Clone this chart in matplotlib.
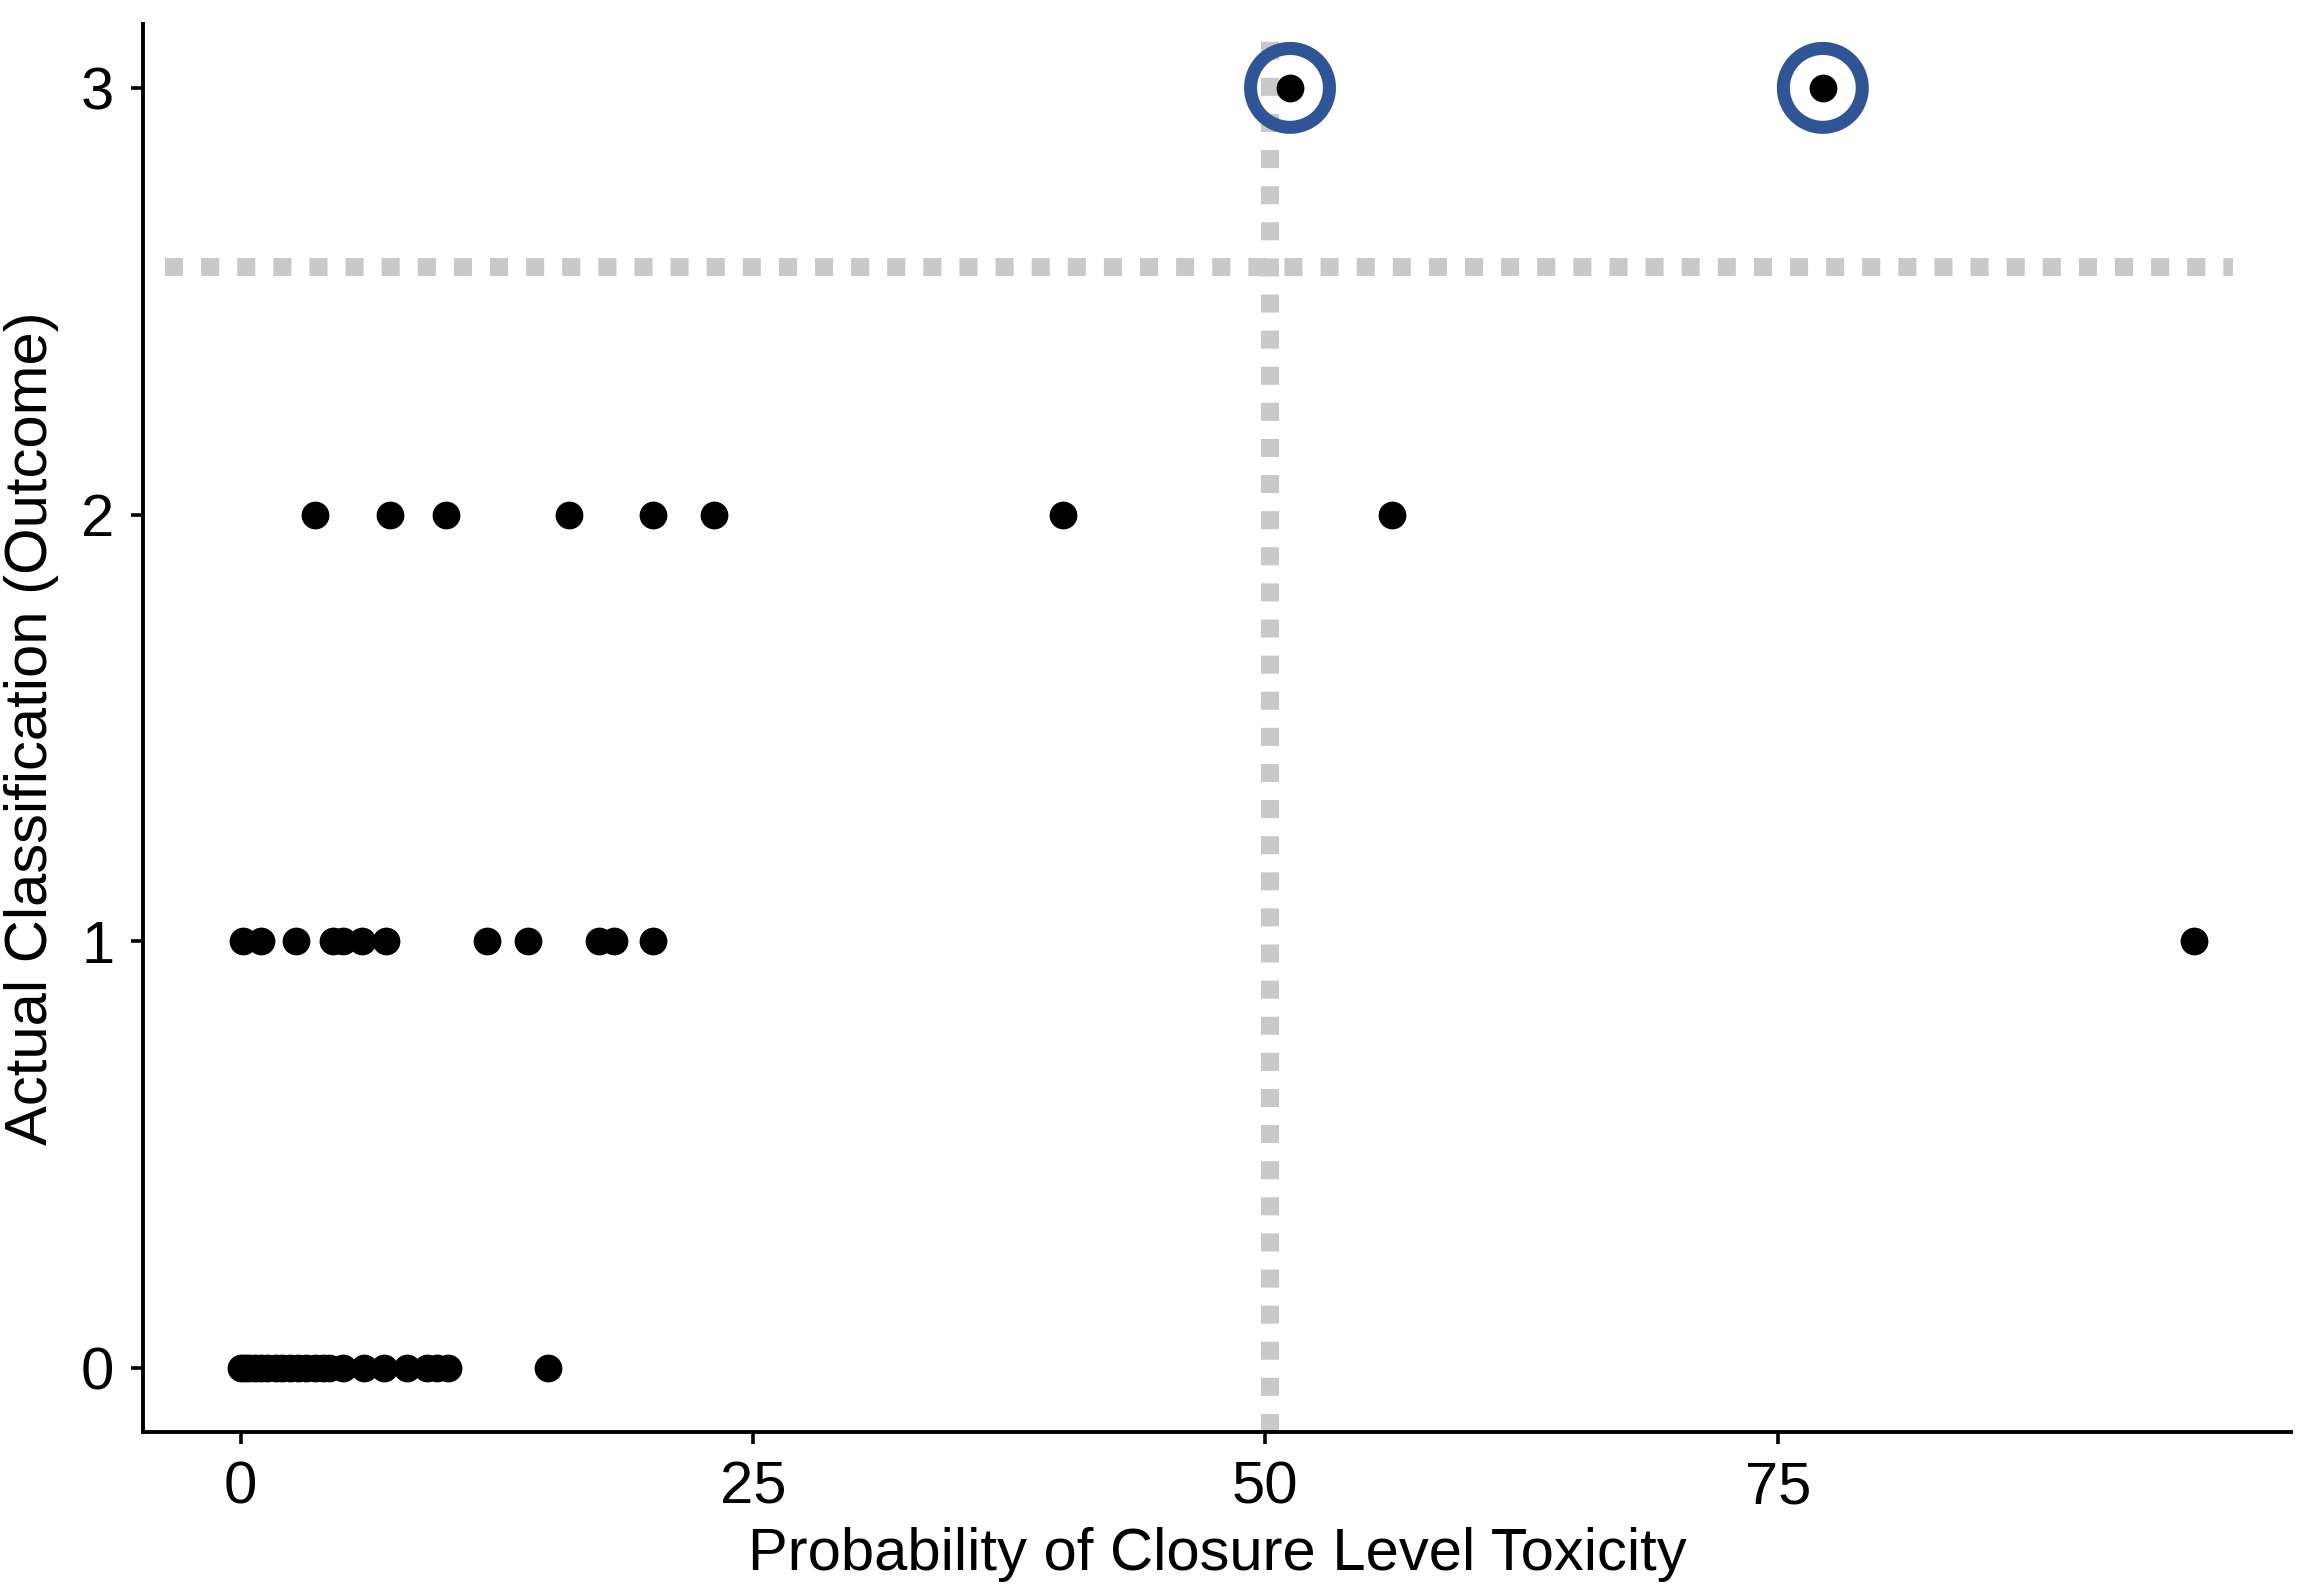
import numpy as np
import matplotlib.pyplot as plt

plt.rcParams['font.family'] = ['Liberation Sans', 'DejaVu Sans']

# probability (%) by actual outcome class
prob_0 = [0.0, 0.2, 0.4, 0.7, 1.0, 1.3, 1.7, 2.0, 2.4, 2.8, 3.2, 3.6, 4.0, 4.3,
          5.0, 6.0, 7.0, 8.1, 9.1, 9.6, 10.1, 15.0]
prob_1 = [0.1, 1.0, 2.7, 4.5, 5.0, 5.9, 7.1, 12.0, 14.0, 17.5, 18.2, 20.1, 95.3]
prob_2 = [3.6, 7.3, 10.0, 16.0, 20.1, 23.1, 40.1, 56.2]
prob_3 = [51.2, 77.2]
highlight = [51.2, 77.2]

cut_x = 50.2
cut_y = 2.58
cut_y_span = [-3.7, 97.2]

x = np.array(prob_0 + prob_1 + prob_2 + prob_3)
y = np.array([0]*len(prob_0) + [1]*len(prob_1) + [2]*len(prob_2) + [3]*len(prob_3))

fig = plt.figure(figsize=(11.515, 7.96), dpi=200)
ax = fig.add_axes([0.0621, 0.1005, 0.9329, 0.8845])

grey = '#c9c9c9'
ax.axvline(cut_x, color=grey, lw=6.5, dashes=(1, 1), solid_capstyle='butt', zorder=1)
ax.plot(cut_y_span, [cut_y, cut_y], color=grey, lw=6.5, dashes=(1, 1),
        solid_capstyle='butt', zorder=1)

ax.scatter(x, y, s=100, color='black', linewidths=0, zorder=3)
ax.scatter(highlight, [3]*len(highlight), s=28.4**2, facecolors='none',
           edgecolors='#2f5597', linewidths=4.7, zorder=4)

ax.set_xlim(-4.77, 100.07)
ax.set_ylim(-0.15, 3.15)
ax.set_xticks([0, 25, 50, 75])
ax.set_yticks([0, 1, 2, 3])
ax.tick_params(labelsize=21.5, length=4.3, width=1.3, pad=6, colors='black')
for s in ['top', 'right']:
    ax.spines[s].set_visible(False)
for s in ['left', 'bottom']:
    ax.spines[s].set_linewidth(1.4)

ax.set_xlabel('Probability of Closure Level Toxicity', fontsize=21.5, labelpad=4)
ax.set_ylabel('Actual Classification (Outcome)', fontsize=21.5, labelpad=8)

fig.savefig('out.png', dpi=200)
